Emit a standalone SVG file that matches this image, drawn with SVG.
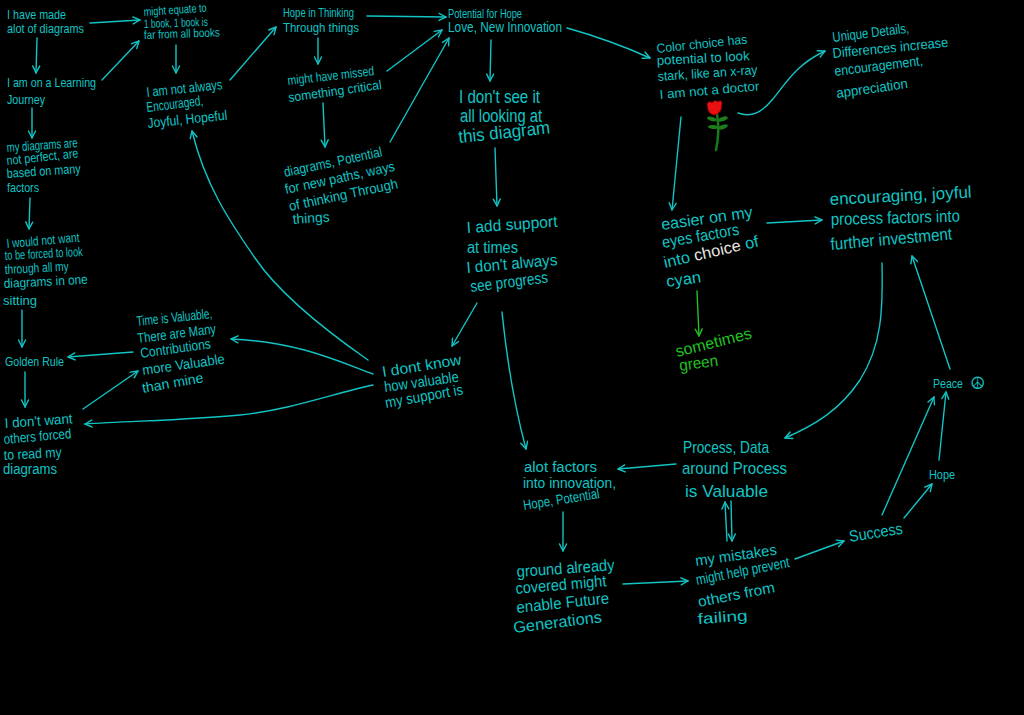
<svg xmlns="http://www.w3.org/2000/svg" width="1024" height="715" viewBox="0 0 1024 715">
<style>
text{font-family:"Liberation Sans",Arial,sans-serif;fill:#12c4c4}
.f11{font-size:11px}.f12{font-size:12px}.f13{font-size:13px}.f14{font-size:14px}.f15{font-size:15px}.f16{font-size:16px}.f17{font-size:17px}.f18{font-size:18px}
.c{fill:none;stroke:#12c4c4;stroke-width:1.4;stroke-linecap:round;marker-end:url(#ah)}
.cg{fill:none;stroke:#22c022;stroke-width:1.4;stroke-linecap:round;marker-end:url(#ahg)}
.grn text{fill:#22c022}
.wh{fill:#e6e6e6}
.sym{font-family:"DejaVu Sans",sans-serif;font-size:17px}
</style>
<defs>
<marker id="ah" markerUnits="userSpaceOnUse" markerWidth="10" markerHeight="10" viewBox="0 0 10 10" refX="9" refY="5" orient="auto"><path d="M2,1.5 L9,5 L2,8.5" fill="none" stroke="#12c4c4" stroke-width="1.4" stroke-linecap="round" stroke-linejoin="round"/></marker>
<marker id="ahg" markerUnits="userSpaceOnUse" markerWidth="10" markerHeight="10" viewBox="0 0 10 10" refX="9" refY="5" orient="auto"><path d="M2,1.5 L9,5 L2,8.5" fill="none" stroke="#22c022" stroke-width="1.4" stroke-linecap="round" stroke-linejoin="round"/></marker>
</defs>
<rect width="1024" height="715" fill="#000"/>

<g id="connectors">
<path class="c" d="M90,23 L140,20"/>
<path class="c" d="M37,38 L36,73"/>
<path class="c" d="M102,80 L139,41"/>
<path class="c" d="M32,108 L32,138"/>
<path class="c" d="M30,198 L29,229"/>
<path class="c" d="M22,310 L22,347"/>
<path class="c" d="M25,372 L25,407"/>
<path class="c" d="M176,45 L176,73"/>
<path class="c" d="M230,80 L276,27"/>
<path class="c" d="M367,16 L446,17"/>
<path class="c" d="M318,38 L318,64"/>
<path class="c" d="M387,71 L442,30"/>
<path class="c" d="M323,103 L325,147"/>
<path class="c" d="M390,142 L449,38"/>
<path class="c" d="M491,40 L490,81"/>
<path class="c" d="M567,28 Q610,40 650,58"/>
<path class="c" d="M495,148 L497,206"/>
<path class="c" d="M477,303 L452,346"/>
<path class="c" d="M502,312 Q510,390 526,449"/>
<path class="c" d="M368,360 C325,330 280,295 255,258 C230,222 205,185 192,131"/>
<path class="c" d="M373,374 C340,362 300,342 231,339"/>
<path class="c" d="M373,385 C335,393 290,410 240,415 C190,420 130,421 85,424"/>
<path class="c" d="M133,352 L68,357"/>
<path class="c" d="M83,409 L138,371"/>
<path class="c" d="M681,117 L672,210"/>
<path class="c" d="M738,113 C752,118 762,112 772,100 C785,85 795,65 825,51"/>
<path class="c" d="M767,223 L822,220"/>
<path class="cg" d="M697,291 L699,336"/>
<path class="c" d="M882,263 C883,310 882,345 860,380 C840,410 815,425 785,438"/>
<path class="c" d="M950,369 L912,256"/>
<path class="c" d="M676,464 L618,469"/>
<path class="c" d="M563,512 L563,551"/>
<path class="c" d="M623,584 L688,581"/>
<path class="c" d="M727,541 L725,502"/>
<path class="c" d="M731,501 L732,541"/>
<path class="c" d="M795,559 L844,541"/>
<path class="c" d="M882,515 L934,397"/>
<path class="c" d="M904,518 L932,484"/>
<path class="c" d="M939,460 L946,392"/>
</g>

<g id="n-made" class="f13">
<text x="7" y="19" textLength="59" lengthAdjust="spacingAndGlyphs">I have made</text>
<text x="7" y="33" textLength="77" lengthAdjust="spacingAndGlyphs">alot of diagrams</text>
</g>
<g id="n-book" class="f12">
<text x="144" y="16" transform="rotate(-4 144 16)" textLength="63" lengthAdjust="spacingAndGlyphs">might equate to</text>
<text x="144" y="28" transform="rotate(-2 144 28)" textLength="64" lengthAdjust="spacingAndGlyphs">1 book, 1 book is</text>
<text x="144" y="39" transform="rotate(-2 144 39)" textLength="76" lengthAdjust="spacingAndGlyphs">far from all books</text>
</g>
<g id="n-learning" class="f13">
<text x="7" y="87" textLength="89" lengthAdjust="spacingAndGlyphs">I am on a Learning</text>
<text x="7" y="104" textLength="38" lengthAdjust="spacingAndGlyphs">Journey</text>
</g>
<g id="n-perfect" class="f13">
<text x="7" y="152" transform="rotate(-4 7 152)" textLength="71" lengthAdjust="spacingAndGlyphs">my diagrams are</text>
<text x="7" y="165" transform="rotate(-6 7 165)" textLength="72" lengthAdjust="spacingAndGlyphs">not perfect, are</text>
<text x="7" y="178" transform="rotate(-4 7 178)" textLength="74" lengthAdjust="spacingAndGlyphs">based on many</text>
<text x="7" y="192" textLength="32" lengthAdjust="spacingAndGlyphs">factors</text>
</g>
<g id="n-forced" class="f13">
<text x="7" y="248" transform="rotate(-5 7 248)" textLength="73" lengthAdjust="spacingAndGlyphs">I would not want</text>
<text x="5" y="260" transform="rotate(-3 5 260)" textLength="78" lengthAdjust="spacingAndGlyphs">to be forced to look</text>
<text x="5" y="274" transform="rotate(-3 5 274)" textLength="64" lengthAdjust="spacingAndGlyphs">through all my</text>
<text x="4" y="288" transform="rotate(-3 4 288)" textLength="84" lengthAdjust="spacingAndGlyphs">diagrams in one</text>
<text x="3" y="305" textLength="34" lengthAdjust="spacingAndGlyphs">sitting</text>
</g>
<g id="n-golden" class="f13">
<text x="5" y="366" textLength="59" lengthAdjust="spacingAndGlyphs">Golden Rule</text>
</g>
<g id="n-dontwant" class="f14">
<text x="5" y="428" transform="rotate(-4 5 428)" textLength="68" lengthAdjust="spacingAndGlyphs">I don't want</text>
<text x="4" y="444" transform="rotate(-5 4 444)" textLength="68" lengthAdjust="spacingAndGlyphs">others forced</text>
<text x="4" y="460" transform="rotate(-3 4 460)" textLength="58" lengthAdjust="spacingAndGlyphs">to read my</text>
<text x="3" y="474" textLength="54" lengthAdjust="spacingAndGlyphs">diagrams</text>
</g>
<g id="n-encouraged" class="f14">
<text x="147" y="97" transform="rotate(-6 147 97)" textLength="76" lengthAdjust="spacingAndGlyphs">I am not always</text>
<text x="147" y="112" transform="rotate(-7 147 112)" textLength="57" lengthAdjust="spacingAndGlyphs">Encouraged,</text>
<text x="148" y="128" transform="rotate(-6 148 128)" textLength="80" lengthAdjust="spacingAndGlyphs">Joyful, Hopeful</text>
</g>
<g id="n-time" class="f14">
<text x="137" y="326" transform="rotate(-6 137 326)" textLength="76" lengthAdjust="spacingAndGlyphs">Time is Valuable,</text>
<text x="138" y="343" transform="rotate(-7 138 343)" textLength="79" lengthAdjust="spacingAndGlyphs">There are Many</text>
<text x="141" y="358" transform="rotate(-8 141 358)" textLength="71" lengthAdjust="spacingAndGlyphs">Contributions</text>
<text x="143" y="375" transform="rotate(-8 143 375)" textLength="83" lengthAdjust="spacingAndGlyphs">more Valuable</text>
<text x="143" y="393" transform="rotate(-10 143 393)" textLength="62" lengthAdjust="spacingAndGlyphs">than mine</text>
</g>
<g id="n-hopethink" class="f12">
<text x="283" y="17" textLength="71" lengthAdjust="spacingAndGlyphs">Hope in Thinking</text>
<text x="283" y="32" textLength="76" lengthAdjust="spacingAndGlyphs">Through things</text>
</g>
<g id="n-missed" class="f13">
<text x="288" y="85" transform="rotate(-6.5 288 85)" textLength="87" lengthAdjust="spacingAndGlyphs">might have missed</text>
<text x="289" y="102" transform="rotate(-8 289 102)" textLength="94" lengthAdjust="spacingAndGlyphs">something critical</text>
</g>
<g id="n-paths" class="f14">
<text x="285" y="177" transform="rotate(-12 285 177)" textLength="100" lengthAdjust="spacingAndGlyphs">diagrams, Potential</text>
<text x="286" y="194" transform="rotate(-12 286 194)" textLength="112" lengthAdjust="spacingAndGlyphs">for new paths, ways</text>
<text x="290" y="211" transform="rotate(-12 290 211)" textLength="111" lengthAdjust="spacingAndGlyphs">of thinking Through</text>
<text x="293" y="224" transform="rotate(-4 293 224)" textLength="37" lengthAdjust="spacingAndGlyphs">things</text>
</g>
<g id="n-potential">
<text class="f12" x="448" y="18" textLength="74" lengthAdjust="spacingAndGlyphs">Potential for Hope</text>
<text class="f14" x="448" y="32" textLength="114" lengthAdjust="spacingAndGlyphs">Love, New Innovation</text>
</g>
<g id="n-seeit" class="f18">
<text x="459" y="103" textLength="81" lengthAdjust="spacingAndGlyphs">I don't see it</text>
<text x="460" y="122" textLength="82" lengthAdjust="spacingAndGlyphs">all looking at</text>
<text x="459" y="143" transform="rotate(-6 459 143)" textLength="92" lengthAdjust="spacingAndGlyphs">this diagram</text>
</g>
<g id="n-support" class="f16">
<text x="467" y="233" transform="rotate(-4 467 233)" textLength="91" lengthAdjust="spacingAndGlyphs">I add support</text>
<text x="467" y="253" textLength="51" lengthAdjust="spacingAndGlyphs">at times</text>
<text x="467" y="273" transform="rotate(-5 467 273)" textLength="91" lengthAdjust="spacingAndGlyphs">I don't always</text>
<text x="471" y="292" transform="rotate(-7 471 292)" textLength="78" lengthAdjust="spacingAndGlyphs">see progress</text>
</g>
<g id="n-valuable" class="f15">
<text x="383" y="377" transform="rotate(-9 383 377)" textLength="80" lengthAdjust="spacingAndGlyphs">I dont know</text>
<text x="385" y="392" transform="rotate(-8 385 392)" textLength="75" lengthAdjust="spacingAndGlyphs">how valuable</text>
<text x="386" y="408" transform="rotate(-10 386 408)" textLength="79" lengthAdjust="spacingAndGlyphs">my support is</text>
</g>
<g id="n-color" class="f13">
<text x="657" y="53" transform="rotate(-6 657 53)" textLength="91" lengthAdjust="spacingAndGlyphs">Color choice has</text>
<text x="657" y="65" transform="rotate(-3 657 65)" textLength="93" lengthAdjust="spacingAndGlyphs">potential to look</text>
<text x="658" y="81" transform="rotate(-4 658 81)" textLength="100" lengthAdjust="spacingAndGlyphs">stark, like an x-ray</text>
<text x="660" y="99" transform="rotate(-5 660 99)" textLength="100" lengthAdjust="spacingAndGlyphs">I am not a doctor</text>
</g>
<g id="rose">
<path d="M717,114 Q720,132 716,150" fill="none" stroke="#1a7a1a" stroke-width="2.5" stroke-linecap="round"/>
<ellipse cx="712" cy="119" rx="5" ry="2" fill="#1d7d1d" transform="rotate(15 712 119)"/>
<ellipse cx="723" cy="119" rx="5" ry="2" fill="#1d7d1d" transform="rotate(-20 723 119)"/>
<ellipse cx="713" cy="127" rx="5" ry="2" fill="#1d7d1d" transform="rotate(5 713 127)"/>
<ellipse cx="723" cy="127" rx="5" ry="2" fill="#1d7d1d" transform="rotate(-20 723 127)"/>
<path d="M707,104 Q709,100 712,103 Q715,99 718,102 Q721,99 722,103 L721,110 Q718,115 714,115 Q709,114 708,110 Z" fill="#e81010" stroke="#8a0000" stroke-width="0.8"/>
</g>
<g id="n-unique" class="f14">
<text x="833" y="42" transform="rotate(-7 833 42)" textLength="77" lengthAdjust="spacingAndGlyphs">Unique Details,</text>
<text x="833" y="58" transform="rotate(-5.5 833 58)" textLength="116" lengthAdjust="spacingAndGlyphs">Differences increase</text>
<text x="835" y="76" transform="rotate(-7 835 76)" textLength="89" lengthAdjust="spacingAndGlyphs">encouragement,</text>
<text x="837" y="98" transform="rotate(-8 837 98)" textLength="72" lengthAdjust="spacingAndGlyphs">appreciation</text>
</g>
<g id="n-easier" class="f16">
<text x="662" y="230" transform="rotate(-8 662 230)" textLength="92" lengthAdjust="spacingAndGlyphs">easier on my</text>
<text x="663" y="248" transform="rotate(-10 663 248)" textLength="78" lengthAdjust="spacingAndGlyphs">eyes factors</text>
<text x="665" y="268" transform="rotate(-13 665 268)" textLength="97" lengthAdjust="spacingAndGlyphs">into <tspan class="wh">choice</tspan> of</text>
<text x="667" y="287" transform="rotate(-8 667 287)" textLength="35" lengthAdjust="spacingAndGlyphs">cyan</text>
</g>
<g id="n-green" class="f16 grn">
<text x="677" y="357" transform="rotate(-14 677 357)" textLength="78" lengthAdjust="spacingAndGlyphs">sometimes</text>
<text x="680" y="371" transform="rotate(-8 680 371)" textLength="39" lengthAdjust="spacingAndGlyphs">green</text>
</g>
<g id="n-joyful" class="f17">
<text x="830" y="205" transform="rotate(-3 830 205)" textLength="142" lengthAdjust="spacingAndGlyphs">encouraging, joyful</text>
<text x="831" y="225" transform="rotate(-1.5 831 225)" textLength="129" lengthAdjust="spacingAndGlyphs">process factors into</text>
<text x="831" y="250" transform="rotate(-5 831 250)" textLength="122" lengthAdjust="spacingAndGlyphs">further investment</text>
</g>
<g id="n-peace">
<text class="f12" x="933" y="388" textLength="30" lengthAdjust="spacingAndGlyphs">Peace</text>
<text class="sym" x="970" y="389">☮</text>
</g>
<g id="n-hope" class="f13">
<text x="929" y="479" textLength="26" lengthAdjust="spacingAndGlyphs">Hope</text>
</g>
<g id="n-success" class="f16">
<text x="850" y="542" transform="rotate(-9 850 542)" textLength="54" lengthAdjust="spacingAndGlyphs">Success</text>
</g>
<g id="n-process" class="f17">
<text x="683" y="453" textLength="86" lengthAdjust="spacingAndGlyphs">Process, Data</text>
<text x="682" y="474" textLength="105" lengthAdjust="spacingAndGlyphs">around Process</text>
<text x="685" y="497" textLength="83" lengthAdjust="spacingAndGlyphs">is Valuable</text>
</g>
<g id="n-innovation" class="f14">
<text x="524" y="472" textLength="73" lengthAdjust="spacingAndGlyphs">alot factors</text>
<text x="523" y="488" textLength="93" lengthAdjust="spacingAndGlyphs">into innovation,</text>
<text x="524" y="510" transform="rotate(-9 524 510)" textLength="77" lengthAdjust="spacingAndGlyphs">Hope, Potential</text>
</g>
<g id="n-ground" class="f16">
<text x="517" y="577" transform="rotate(-4 517 577)" textLength="98" lengthAdjust="spacingAndGlyphs">ground already</text>
<text x="516" y="594" transform="rotate(-5 516 594)" textLength="91" lengthAdjust="spacingAndGlyphs">covered might</text>
<text x="517" y="613" transform="rotate(-6 517 613)" textLength="93" lengthAdjust="spacingAndGlyphs">enable Future</text>
<text x="514" y="633" transform="rotate(-7 514 633)" textLength="89" lengthAdjust="spacingAndGlyphs">Generations</text>
</g>
<g id="n-mistakes" class="f15">
<text x="696" y="566" transform="rotate(-8 696 566)" textLength="82" lengthAdjust="spacingAndGlyphs">my mistakes</text>
<text x="697" y="585" transform="rotate(-11 697 585)" textLength="95" lengthAdjust="spacingAndGlyphs">might help prevent</text>
<text x="699" y="607" transform="rotate(-11 699 607)" textLength="78" lengthAdjust="spacingAndGlyphs">others from</text>
<text x="698" y="624" transform="rotate(-4 698 624)" textLength="50" lengthAdjust="spacingAndGlyphs">failing</text>
</g>
</svg>
